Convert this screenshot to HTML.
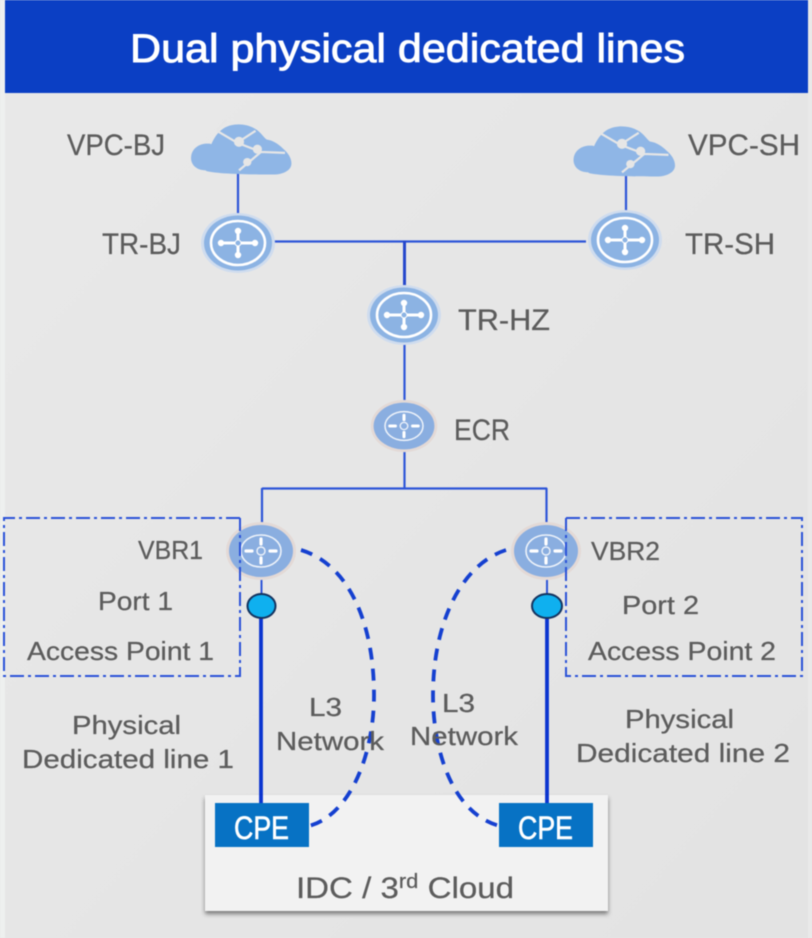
<!DOCTYPE html>
<html><head><meta charset="utf-8"><style>
html,body{margin:0;padding:0;background:#e6e6e6}
svg{display:block;filter:blur(.45px)}
text{font-family:"Liberation Sans",sans-serif;fill:#5c5c5c;font-size:30px;stroke:#5c5c5c;stroke-width:.25px}
</style></head><body>
<svg width="812" height="938" viewBox="0 0 812 938" xmlns="http://www.w3.org/2000/svg">
<defs>
<linearGradient id="bg" x1="0" y1="0" x2="1" y2="1"><stop offset="0" stop-color="#e9e9e9"/><stop offset="1" stop-color="#e3e3e3"/></linearGradient>
<filter id="sh" x="-5%" y="-5%" width="110%" height="115%"><feDropShadow dx="0" dy="3" stdDeviation="2" flood-color="#333" flood-opacity=".6"/></filter>
<g id="r">
<ellipse cx="0" cy="0" rx="37" ry="30" fill="#cfdcee"/>
<ellipse cx="0" cy="0" rx="34" ry="27.500" fill="#8cb3e3"/>
<ellipse cx="0" cy="0" rx="27" ry="22" fill="none" stroke="#fff" stroke-width="2.600"/>
<path d="M-18 0H18M0-14V14" stroke="#fff" stroke-width="3"/>
<circle cx="-17" cy="0" r="3.200" fill="#fff"/><circle cx="17" cy="0" r="3.200" fill="#fff"/><circle cx="0" cy="-12" r="3.200" fill="#fff"/><circle cx="0" cy="12" r="3.200" fill="#fff"/>
<circle cx="0" cy="0" r="3" fill="#8cb3e3" stroke="#fff" stroke-width="1"/>
</g>
<g id="e">
<ellipse cx="0" cy="0" rx="35" ry="29" fill="#e3d9d6"/>
<ellipse cx="0" cy="0" rx="32" ry="26" fill="#8aaee0"/>
<ellipse cx="0" cy="0" rx="20" ry="16" fill="none" stroke="#eef3fa" stroke-width="1.600"/>
<circle cx="0" cy="0" r="4" fill="none" stroke="#eef3fa" stroke-width="1.400"/>
<path d="M-15 0h6M9 0h6M0-12v5M0 7v5" stroke="#fff" stroke-width="3.200" stroke-linecap="round"/>
</g>
<g id="c">
<path d="M-36 33c-12 0-17-8-16-15 1-9 9-14 17-14 2 0 4 0 5 .5 3-7 7-13 13-17 9-6 24-6 34 0 7 4 9 9 13 12 7 1 13 5 18 10 5 4 9 10 9 16 0 7-8 12-20 12-10 0-60 0-73-4z" fill="#8fb6e6"/>
<path d="M-24-10 -2 3 24 13 50 14M-24-10-14-22M-2 3 18-10M24 13 0 33" fill="none" stroke="#e6e6e6" stroke-width="2.400"/>
<circle cx="0" cy="2" r="5.500" fill="#e6e6e6"/><circle cx="20" cy="10" r="5" fill="#e6e6e6"/><circle cx="9" cy="24" r="4.500" fill="#e6e6e6"/>
</g>
</defs>
<rect width="812" height="938" fill="url(#bg)"/>
<rect x="0" y="0" width="5" height="938" fill="#eef0ef"/>
<rect x="5" y="0" width="803" height="93" fill="#0b3fc4"/>
<rect x="808" y="0" width="4" height="938" fill="#e9e9e9"/>
<text x="130" y="62" style="font-size:40px;fill:#fff;stroke:#fff;stroke-width:.9px" textLength="555" lengthAdjust="spacingAndGlyphs">Dual physical dedicated lines</text>

<g fill="none" stroke="#2d55d8" stroke-width="2.200">
<path d="M238 170V220M626 170V215M272 241.500H586"/>
<path d="M404.500 241V290M404.500 344V402M404.500 452V488M262 488.500H547M262 488V530M546.500 488V530"/>
</g>
<path d="M404.500 241V290" stroke="#2648cc" stroke-width="3"/>
<path d="M261.500 578V596M547 578V596" stroke="#2d55d8" stroke-width="2"/>
<path d="M261 616V803M547 618V803" stroke="#0a34d0" stroke-width="3.800" fill="none"/>

<g transform="translate(239 140) scale(.92 .92)"><use href="#c"/></g>
<g transform="translate(622 142) scale(.93 .92)"><use href="#c"/></g>
<use href="#r" x="238" y="243"/>
<use href="#r" x="625" y="240"/>
<use href="#r" x="404" y="315"/>
<g transform="translate(404 426) scale(.95 .9)"><use href="#e"/></g>
<use href="#e" x="261" y="551"/>
<use href="#e" x="546" y="551"/>

<g fill="none" stroke="#2a52d8" stroke-width="2" stroke-dasharray="14 4 3 4">
<path d="M240 518H4V676H240V518"/>
<path d="M566 518H802V676H566V518"/>
</g>

<ellipse cx="261.500" cy="606" rx="14" ry="12" fill="#0fb0ef" stroke="#15335f" stroke-width="2"/>
<ellipse cx="547" cy="606" rx="15" ry="12" fill="#0fb0ef" stroke="#15335f" stroke-width="2"/>

<rect x="205" y="795" width="403" height="116" fill="#f2f2f2" filter="url(#sh)"/>
<path d="M261 795V803M547 795V803" stroke="#0a34d0" stroke-width="3.800"/>
<g fill="none" stroke="#1540d0" stroke-width="3.800" stroke-dasharray="12 9">
<path d="M301 550C350 565 374 625 374 695C374 755 350 815 309 826"/>
<path d="M506 550C460 565 433 625 433 695C433 755 455 815 500 826"/>
</g>
<rect x="215" y="803" width="94" height="44" fill="#0772c4"/>
<rect x="499" y="803" width="94" height="44" fill="#0772c4"/>
<text x="234" y="839" style="font-size:32px;fill:#fff;stroke:#fff;stroke-width:.6px" textLength="55" lengthAdjust="spacingAndGlyphs">CPE</text>
<text x="518" y="839" style="font-size:32px;fill:#fff;stroke:#fff;stroke-width:.6px" textLength="55" lengthAdjust="spacingAndGlyphs">CPE</text>

<text x="67" y="155" textLength="98" lengthAdjust="spacingAndGlyphs">VPC-BJ</text>
<text x="688" y="155" textLength="112" lengthAdjust="spacingAndGlyphs">VPC-SH</text>
<text x="102" y="254" textLength="79" lengthAdjust="spacingAndGlyphs">TR-BJ</text>
<text x="685" y="254" textLength="90" lengthAdjust="spacingAndGlyphs">TR-SH</text>
<text x="458" y="330" textLength="92" lengthAdjust="spacingAndGlyphs">TR-HZ</text>
<text x="454" y="440" textLength="56" lengthAdjust="spacingAndGlyphs">ECR</text>
<text x="138" y="559" style="font-size:26px" textLength="65" lengthAdjust="spacingAndGlyphs">VBR1</text>
<text x="591" y="560" style="font-size:26px" textLength="69" lengthAdjust="spacingAndGlyphs">VBR2</text>
<text x="98" y="610" style="font-size:26px" textLength="75" lengthAdjust="spacingAndGlyphs">Port 1</text>
<text x="622" y="614" style="font-size:26px" textLength="77" lengthAdjust="spacingAndGlyphs">Port 2</text>
<text x="27" y="660" style="font-size:26px" textLength="187" lengthAdjust="spacingAndGlyphs">Access Point 1</text>
<text x="588" y="660" style="font-size:26px" textLength="188" lengthAdjust="spacingAndGlyphs">Access Point 2</text>
<text x="72" y="734" style="font-size:26px" textLength="109" lengthAdjust="spacingAndGlyphs">Physical</text>
<text x="22" y="768" style="font-size:26px" textLength="212" lengthAdjust="spacingAndGlyphs">Dedicated line 1</text>
<text x="625" y="728" style="font-size:26px" textLength="109" lengthAdjust="spacingAndGlyphs">Physical</text>
<text x="576" y="762" style="font-size:26px" textLength="214" lengthAdjust="spacingAndGlyphs">Dedicated line 2</text>
<text x="309" y="716" style="font-size:26px" textLength="33" lengthAdjust="spacingAndGlyphs">L3</text>
<text x="276" y="750" style="font-size:26px" textLength="108" lengthAdjust="spacingAndGlyphs">Network</text>
<text x="442" y="712" style="font-size:26px" textLength="33" lengthAdjust="spacingAndGlyphs">L3</text>
<text x="410" y="745" style="font-size:26px" textLength="108" lengthAdjust="spacingAndGlyphs">Network</text>
<text x="296" y="898" textLength="218" lengthAdjust="spacingAndGlyphs"><tspan>IDC / 3</tspan><tspan dy="-10" style="font-size:20px">rd</tspan><tspan dy="10"> Cloud</tspan></text>
</svg>
</body></html>
